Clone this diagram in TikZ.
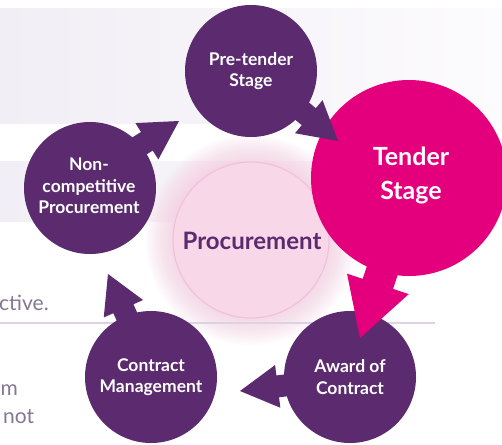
\documentclass[tikz,border=0pt]{standalone}
\usepackage{fontspec}
\setmainfont{Lato}
\usetikzlibrary{calc}
\definecolor{procpurple}{HTML}{5C2A6F}
\definecolor{procpink}{HTML}{E4007D}
\definecolor{softpink}{HTML}{F8D8E8}
\definecolor{softpinkedge}{HTML}{F0C2D9}
\definecolor{glowpink}{HTML}{F5C4DB}
\definecolor{bandlav}{HTML}{F1EEF5}
\definecolor{bandwhite}{HTML}{FCFBFD}
\definecolor{rulelav}{HTML}{DCD1E5}
\definecolor{greytext}{HTML}{857795}
% #1 start coordinate, #2 tip coordinate, #3 half shaft width, #4 half head width, #5 head length, #6 style
\newcommand\blockarrow[6]{%
  \coordinate (ba-base) at ($(#2)!#5!(#1)$);
  \fill[#6] ($(#1)!#3!90:(#2)$) -- ($(ba-base)!#3!90:(#2)$) -- ($(ba-base)!#4!90:(#2)$)
    -- (#2) -- ($(ba-base)!#4!-90:(#2)$) -- ($(ba-base)!#3!-90:(#2)$)
    -- ($(#1)!#3!-90:(#2)$) -- cycle;
}
\begin{document}
\begin{tikzpicture}[x=1pt,y=-1pt,
  stagebox/.style={circle, fill=procpurple, text=white, inner sep=0pt,
    minimum size=132pt, align=center,
    font=\bfseries\fontsize{17.5}{21.5}\selectfont},
  tenderbox/.style={circle, fill=procpink, text=white, inner sep=0pt,
    minimum size=196pt, align=center,
    font=\bfseries\fontsize{25}{34}\selectfont},
  centrebox/.style={circle, fill=softpink, draw=softpinkedge, line width=1.2pt,
    inner sep=0pt, minimum size=156pt, text=procpurple,
    font=\bfseries\fontsize{24}{28}\selectfont},
  sidetext/.style={text=greytext, inner sep=0pt, font=\fontsize{21}{25}\selectfont},
  band/.style={left color=bandlav, right color=bandwhite, draw=none},
  purplearrow/.style={fill=procpurple},
  pinkarrow/.style={fill=procpink}]
\useasboundingbox (0,0) rectangle (502,444);
\clip (0,0) rectangle (502,444);
\fill[white] (0,0) rectangle (502,444);
% background bands and rule
\shade[band] (0,9) rectangle (502,123);
\shade[band] (0,161) rectangle (420,221);
% left text fragments
\node[sidetext, anchor=base west] (t1) at (-1,310) {ctive.};
\node[sidetext, anchor=base east] (t2) at (18,395) {m};
\node[sidetext, anchor=base west] (t3) at (3,423) {not};
% glow around the centre
\foreach \r in {79,81,...,105} {
  \fill[glowpink, opacity=0.06] (251,240) circle (\r);
}
\draw[rulelav, line width=1.3pt] (0,323) -- (435,323);
% centre
\node[centrebox] (proc) at (251,240) {};
\node[text=procpurple, font=\bfseries\fontsize{24}{28}\selectfont, inner sep=0pt] (proclabel) at (252,241) {Procurement};
% stages
\node[stagebox] (pre) at (251,71) {Pre-tender\\Stage};
\node[tenderbox] (tender) at (409,178) {};
\node[text=white, align=center, inner sep=0pt, font=\bfseries\fontsize{25}{34}\selectfont] (tenderlabel) at (411,175) {Tender\\Stage};
\node[stagebox] (award) at (350,377) {Award of\\Contract};
\node[stagebox] (manage) at (151,377) {Contract\\Management};
\node[stagebox] (noncomp) at (90,188) {};
\node[text=white, align=center, inner sep=0pt, font=\bfseries\fontsize{17.5}{21.5}\selectfont] (noncomplabel) at (89,186) {Non-\\competitive\\Procurement};
% arrow start and tip points
\coordinate (s1) at (133.8,149.5); \coordinate (e1) at (179,121);
\coordinate (s2) at (297,106.9);   \coordinate (e2) at (338,141);
\coordinate (s3) at (384.3,264.5); \coordinate (e3) at (360,338);
\coordinate (s4) at (291.4,384.7); \coordinate (e4) at (240,391);
\coordinate (s5) at (129.6,322.7); \coordinate (e5) at (108,274);
% arrows
\blockarrow{s1}{e1}{11pt}{21.5pt}{38pt}{purplearrow}
\blockarrow{s2}{e2}{11pt}{21.5pt}{38pt}{purplearrow}
\blockarrow{s3}{e3}{16pt}{32.5pt}{57pt}{pinkarrow}
\blockarrow{s4}{e4}{11pt}{21.5pt}{38pt}{purplearrow}
\blockarrow{s5}{e5}{11pt}{21.5pt}{38pt}{purplearrow}
\end{tikzpicture}
\end{document}
